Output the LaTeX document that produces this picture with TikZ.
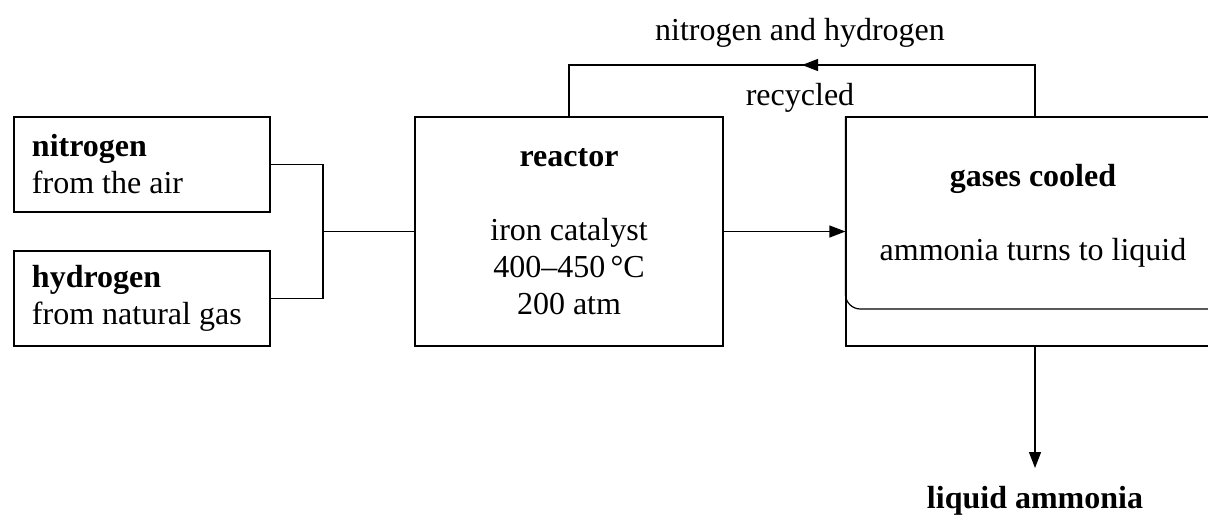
\documentclass[tikz,border=0pt]{standalone}
\usepackage{fontspec}
\setmainfont{Liberation Serif}
\usetikzlibrary{arrows.meta,decorations.markings,calc}
\tikzset{
  source/.style={
    draw,
    minimum width=128pt,
    minimum height=47.5pt,
    inner xsep=9pt,
    text width=110pt,
    align=flush left
  },
  process/.style={
    draw,
    minimum width=154pt,
    minimum height=114.5pt,
    align=center
  },
  every picture/.style={
    x=0.5pt, y=-0.5pt,
    line width=0.6pt,
    >={Triangle[length=8pt,width=6pt]},
    font=\fontsize{16}{18.5}\selectfont
  }
}

\begin{document}
\begin{tikzpicture}
    \clip (0,0) rectangle (1208,516);
    % feed gases
    \node[source] (nitro) at (142,164.5) {\textbf{nitrogen}\\from the air};
    \node[source] (hydro) at (142,298.5) {\textbf{hydrogen}\\from natural gas};
    \node[process] (reactor) at (569,231.5) {\textbf{reactor}\\[18.5pt]iron catalyst\\400--450\,°C\\200 atm};
    \node[process, minimum width=189pt] (cooler) at (1035,231.5) {};
    \draw[rounded corners=7.5pt] (cooler.north west) |- (1240,309);
    \node[align=center] (gases) at (1033,216) {\textbf{gases cooled}\\[18.5pt]ammonia turns to liquid};
    \node[anchor=north, inner ysep=9pt] (ammonia) at (1035,468) {\textbf{liquid ammonia}};
    % connections
    \coordinate (join) at (323,231.5);
    \draw (nitro.east) -| (join) |- (hydro.east);
    \draw (join) -- (reactor.west);
    \draw[->] (reactor.east) -- (cooler.west);
    \draw[->] (cooler.south) -- (ammonia.north);
    % recycle loop
    \coordinate (loop) at (800,65);
    \draw[postaction={decorate},
          decoration={markings, mark=at position 0.5 with {\arrow{>}}}]
        (cooler.north) |- (loop) -| (reactor.north);
    \node (nh) at (800,33) {nitrogen and hydrogen};
    \node (recyc) at (800,98) {recycled};
\end{tikzpicture}
\end{document}
